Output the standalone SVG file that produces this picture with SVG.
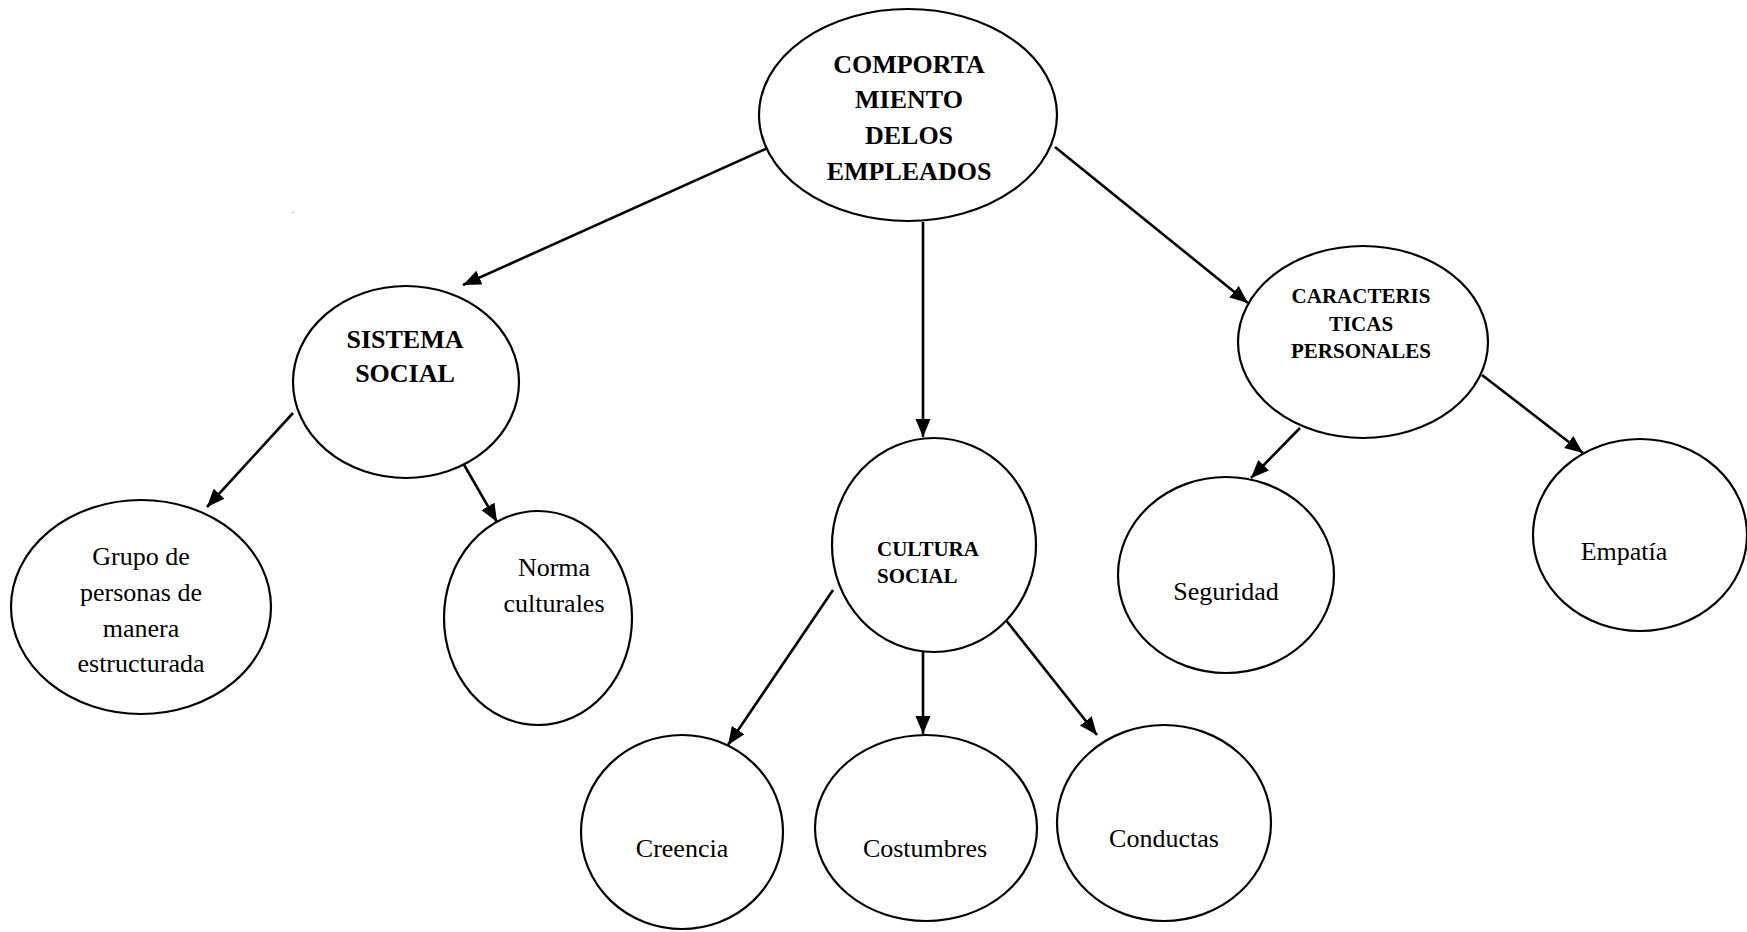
<svg xmlns="http://www.w3.org/2000/svg" width="1747" height="932" viewBox="0 0 1747 932">
  <style>
    .node { fill: #ffffff; stroke: #000000; stroke-width: 2.2; }
    .edge { stroke: #000000; stroke-width: 2.6; fill: none; marker-end: url(#arrow); }
    text { font-family: "Liberation Serif", "Times New Roman", serif; fill: #000000; text-anchor: middle; }
    .bold { font-weight: bold; }
    .big { font-size: 26px; }
    .mid { font-size: 21px; }
    .reg { font-size: 26px; }
  </style>
  <defs>
    <marker id="arrow" markerUnits="userSpaceOnUse" markerWidth="20" markerHeight="16" refX="18" refY="7.5" orient="auto">
      <path d="M0,0 L18,7.5 L0,15 z" fill="#000000"/>
    </marker>
  </defs>

  <rect width="1747" height="932" fill="#ffffff"/>

  <!-- connectors -->
  <g id="connectors">
    <line class="edge" x1="770" y1="147" x2="463" y2="285"/>
    <line class="edge" x1="923" y1="222" x2="923" y2="437"/>
    <line class="edge" x1="1055" y1="147" x2="1248" y2="303"/>
    <line class="edge" x1="293" y1="413" x2="207" y2="507"/>
    <line class="edge" x1="463" y1="463" x2="497" y2="522"/>
    <line class="edge" x1="833" y1="590" x2="728" y2="745"/>
    <line class="edge" x1="923" y1="652" x2="923" y2="734"/>
    <line class="edge" x1="1005" y1="619" x2="1097" y2="735"/>
    <line class="edge" x1="1300" y1="428" x2="1251" y2="478"/>
    <line class="edge" x1="1482" y1="375" x2="1583" y2="453"/>
  </g>

  <!-- stray period mark -->
  <text x="293" y="213" style="font-size:8px">.</text>

  <g id="comportamiento">
    <ellipse class="node" cx="908" cy="115" rx="149" ry="106"/>
    <text class="bold big" x="909" y="73">COMPORTA</text>
    <text class="bold big" x="909" y="108">MIENTO</text>
    <text class="bold big" x="909" y="144">DELOS</text>
    <text class="bold big" x="909" y="180">EMPLEADOS</text>
  </g>

  <g id="sistema-social">
    <ellipse class="node" cx="406" cy="382" rx="113" ry="96"/>
    <text class="bold big" x="405" y="348">SISTEMA</text>
    <text class="bold big" x="405" y="382">SOCIAL</text>
  </g>

  <g id="caracteristicas">
    <ellipse class="node" cx="1363" cy="342" rx="125" ry="96"/>
    <text class="bold mid" x="1361" y="303">CARACTERIS</text>
    <text class="bold mid" x="1361" y="331">TICAS</text>
    <text class="bold mid" x="1361" y="358">PERSONALES</text>
  </g>

  <g id="cultura-social">
    <ellipse class="node" cx="934" cy="545" rx="102" ry="107"/>
    <text class="bold mid" x="877" y="556" style="text-anchor:start">CULTURA</text>
    <text class="bold mid" x="877" y="583" style="text-anchor:start">SOCIAL</text>
  </g>

  <g id="grupo">
    <ellipse class="node" cx="141" cy="607" rx="130" ry="107"/>
    <text class="reg" x="141" y="565">Grupo de</text>
    <text class="reg" x="141" y="601">personas de</text>
    <text class="reg" x="141" y="637">manera</text>
    <text class="reg" x="141" y="672">estructurada</text>
  </g>

  <g id="norma">
    <ellipse class="node" cx="538" cy="618" rx="94" ry="107"/>
    <text class="reg" x="554" y="576">Norma</text>
    <text class="reg" x="554" y="612">culturales</text>
  </g>

  <g id="seguridad">
    <ellipse class="node" cx="1226" cy="575" rx="108" ry="98"/>
    <text class="reg" x="1226" y="600">Seguridad</text>
  </g>

  <g id="empatia">
    <ellipse class="node" cx="1640" cy="535" rx="107" ry="96"/>
    <text class="reg" x="1624" y="560">Empatía</text>
  </g>

  <g id="creencia">
    <ellipse class="node" cx="682" cy="832" rx="101" ry="97"/>
    <text class="reg" x="682" y="857">Creencia</text>
  </g>

  <g id="costumbres">
    <ellipse class="node" cx="926" cy="828" rx="111" ry="93"/>
    <text class="reg" x="925" y="857">Costumbres</text>
  </g>

  <g id="conductas">
    <ellipse class="node" cx="1164" cy="823" rx="107" ry="98"/>
    <text class="reg" x="1164" y="847">Conductas</text>
  </g>
</svg>
